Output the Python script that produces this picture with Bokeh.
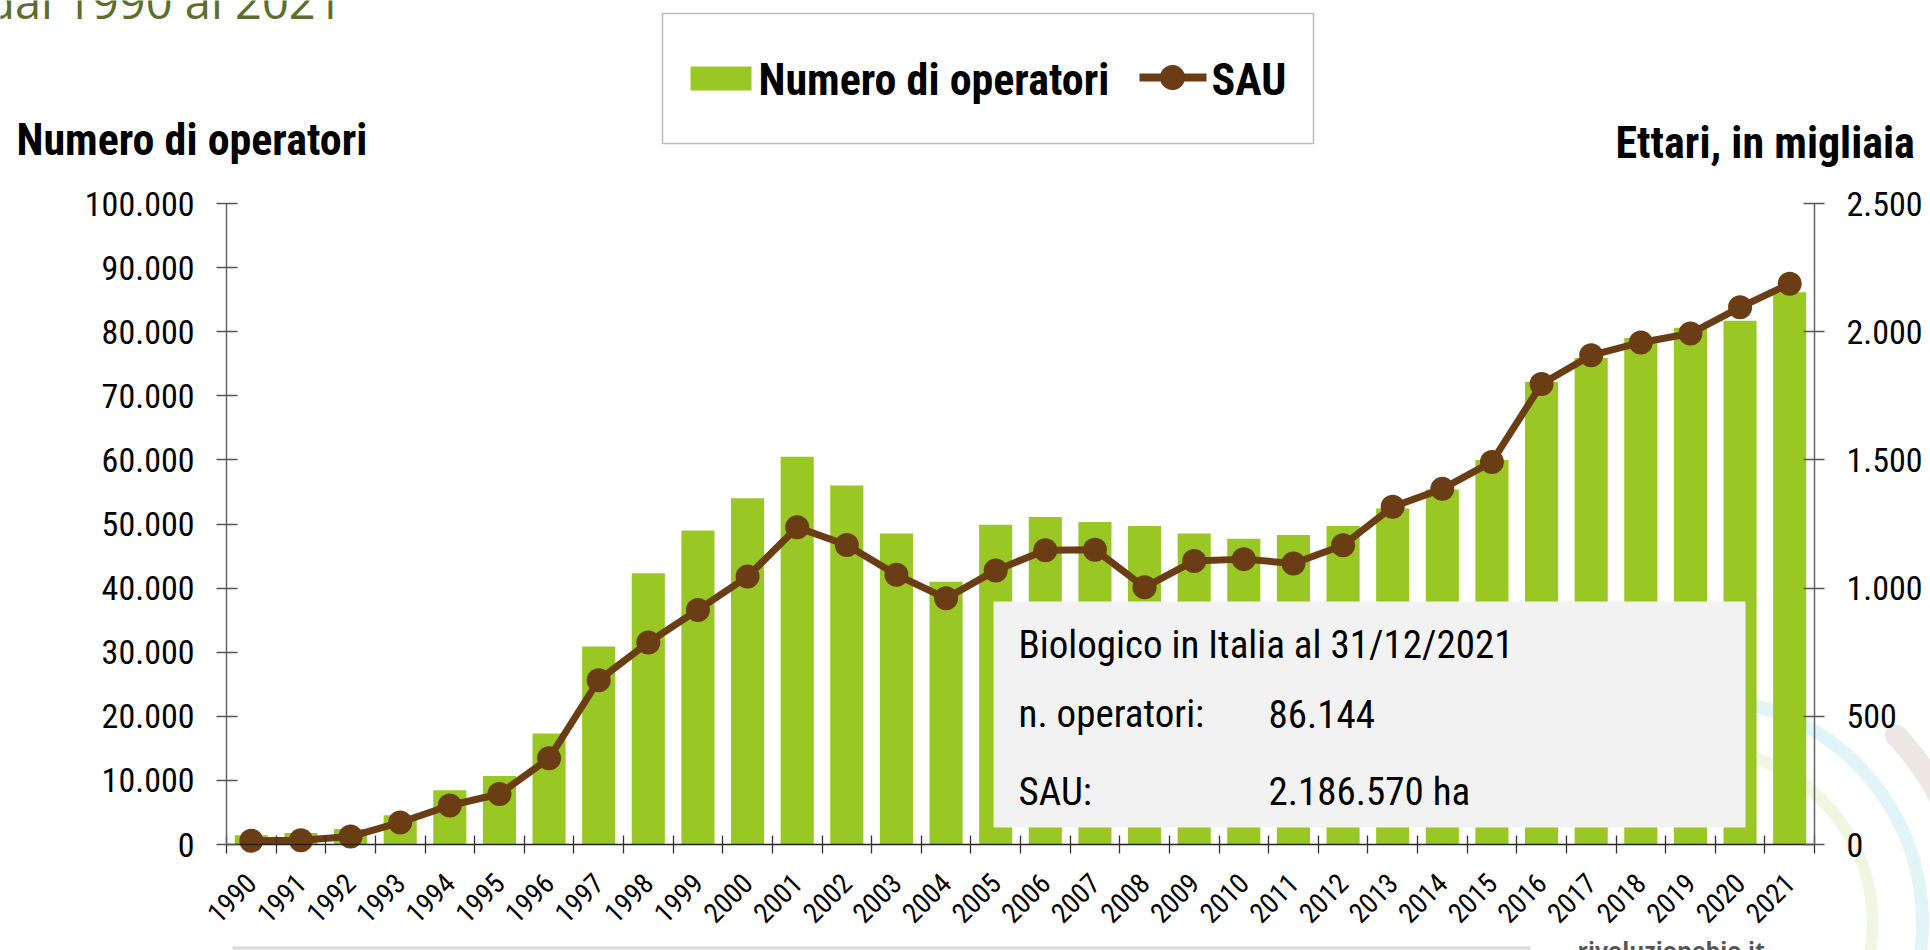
import numpy as np
from bokeh.plotting import figure
from bokeh.models import (Range1d, LinearAxis, FixedTicker, Label, BoxAnnotation,
                          PolyAnnotation, ColumnDataSource)
from bokeh.embed import file_html
from bokeh.resources import INLINE

# ---------------- data ----------------
years = [str(y) for y in range(1990, 2022)]
operatori = [1450, 1800, 2400, 4550, 8450, 10700, 17300, 30900, 42300, 49000,
             54000, 60500, 56000, 48500, 41000, 49900, 51100, 50300, 49700, 48500,
             47700, 48300, 49700, 52400, 55400, 60000, 72200, 75900, 79000, 80600,
             81700, 86144]
sau = [15, 17, 31, 86, 152, 197, 336, 641, 788, 915,
       1045, 1237, 1168, 1052, 960, 1069, 1148, 1150, 1003, 1106,
       1113, 1096, 1167, 1317, 1387, 1492, 1796, 1908, 1958, 1993,
       2095, 2187]
left_ticks = [0, 10000, 20000, 30000, 40000, 50000, 60000, 70000, 80000, 90000, 100000]
right_ticks = [0, 500, 1000, 1500, 2000, 2500]
legend_labels = ["Numero di operatori", "SAU"]
title_text = "dal 1990 al 2021"
left_title = "Numero di operatori"
right_title = "Ettari, in migliaia"
box_lines = [("Biologico in Italia al 31/12/2021", ""),
             ("n. operatori:", "86.144"),
             ("SAU:", "2.186.570 ha")]
site_text = "rivoluzionebio.it"

def it_fmt(v):
    return f"{v:,}".replace(",", ".")

# ---------------- style / geometry ----------------
GREEN = "#99c723"
BROWN = "#6b3d14"
NARROW = "'Liberation Sans Narrow', 'Arial Narrow', 'Roboto Condensed', 'DejaVu Sans Condensed', sans-serif"

W, H = 1930, 950
FL, FR, FT, FB = 226, 1814, 203, 844   # plot area in page pixels
n = len(years)
PX = (FR - FL) / n
YPX = (FB - FT) / 100000
SPX = (FB - FT) / 2500

x_rng = Range1d(-0.5 - FL / PX, n - 0.5 + (W - FR) / PX)
y_rng = Range1d(-(H - FB) / YPX, 100000 + FT / YPX)
s_rng = Range1d(-(H - FB) / SPX, 2500 + FT / SPX)

p = figure(width=W, height=H, output_backend="svg", toolbar_location=None,
           x_range=x_rng, y_range=y_rng,
           min_border=0, min_border_left=0, min_border_right=0,
           min_border_top=0, min_border_bottom=0)
p.outline_line_color = None
p.grid.visible = False
p.xaxis.visible = False
p.yaxis.visible = False
p.background_fill_color = "white"
p.border_fill_color = "white"
p.extra_y_ranges = {"sau": s_rng}

xs = list(range(n))
src = ColumnDataSource(dict(x=xs, op=operatori, sau=sau))

def sx(X):
    return X
def sy(Y):
    return H - Y

# decorative logo arcs (background)
cx, cy = sx(1698), sy(922)
def arc_poly(r, t, a0, a1, k=90):
    a = np.radians(np.linspace(a0, a1, k))
    xo = cx + (r + t / 2) * np.cos(a)
    yo = cy + (r + t / 2) * np.sin(a)
    xi = cx + (r - t / 2) * np.cos(a[::-1])
    yi = cy + (r - t / 2) * np.sin(a[::-1])
    return list(np.r_[xo, xi]), list(np.r_[yo, yi])

th = np.linspace(0, 2 * np.pi, 48)
for r, t, a0, a1, col in [(224, 13, 115, -40, "#e1f4f8"),
                          (174, 12, 115, -40, "#f1f6e3"),
                          (272, 22, 43.5, -20, "#ede7e4")]:
    ax_, ay_ = arc_poly(r, t, a0, a1)
    p.add_layout(PolyAnnotation(xs=ax_, ys=ay_, xs_units="screen", ys_units="screen",
                                fill_color=col, fill_alpha=1, line_color=None, level="underlay"))
ang = np.radians(43.5)
ccx, ccy = cx + 272 * np.cos(ang), cy + 272 * np.sin(ang)
p.add_layout(PolyAnnotation(xs=list(ccx + 11 * np.cos(th)), ys=list(ccy + 11 * np.sin(th)),
                            xs_units="screen", ys_units="screen",
                            fill_color="#ede7e4", fill_alpha=1, line_color=None, level="underlay"))

# bars
p.vbar(x="x", top="op", width=0.667, source=src, fill_color=GREEN, line_color=None)

# SAU line on secondary axis
p.line(x="x", y="sau", source=src, y_range_name="sau", line_color=BROWN, line_width=7)
p.scatter(x="x", y="sau", source=src, y_range_name="sau", size=24,
          fill_color=BROWN, line_color=None)

# axes (fixed inside the full-canvas frame)
xaxis = LinearAxis(ticker=FixedTicker(ticks=xs, minor_ticks=[i - 0.5 for i in range(n + 1)]),
                   fixed_location=0, bounds=(-0.5, n - 0.5))
xaxis.major_label_overrides = {i: y for i, y in enumerate(years)}
xaxis.major_label_orientation = np.pi / 4
xaxis.major_tick_in = 0
xaxis.major_tick_out = 9
xaxis.major_tick_line_color = None
xaxis.minor_tick_in = 9
xaxis.minor_tick_out = 9
xaxis.minor_tick_line_color = "#333333"
xaxis.minor_tick_line_width = 1.3
xaxis.axis_line_color = "#222222"
xaxis.axis_line_width = 1.5
xaxis.major_label_text_font = NARROW
xaxis.major_label_text_font_size = "28px"
xaxis.major_label_text_color = "black"
xaxis.major_label_standoff = 25
p.add_layout(xaxis, "below")

laxis = LinearAxis(ticker=FixedTicker(ticks=left_ticks, minor_ticks=[]),
                   fixed_location=-0.5, bounds=(0, 100000))
laxis.major_label_overrides = {v: it_fmt(v) for v in left_ticks}
raxis = LinearAxis(y_range_name="sau", ticker=FixedTicker(ticks=right_ticks, minor_ticks=[]),
                   fixed_location=n - 0.5, bounds=(0, 2500))
raxis.major_label_overrides = {v: it_fmt(v) for v in right_ticks}
for ax in (laxis, raxis):
    ax.major_tick_in = 11
    ax.major_tick_out = 10
    ax.major_tick_line_color = "#555555"
    ax.major_tick_line_width = 1.3
    ax.minor_tick_line_color = None
    ax.axis_line_color = "#666666"
    ax.axis_line_width = 1.5
    ax.major_label_text_font = NARROW
    ax.major_label_text_font_size = "34px"
    ax.major_label_text_color = "black"
    ax.major_label_standoff = 22
p.add_layout(laxis, "left")
p.add_layout(raxis, "right")

def lab(X, Y, text, size, font=NARROW, style="normal", color="black", align="left", level="annotation"):
    # Y is the wanted baseline in page pixels; compensate the renderer's baseline offset
    p.add_layout(Label(x=sx(X), y=sy(Y - 0.29 * size), x_units="screen", y_units="screen", text=text,
                       text_font=font, text_font_size=f"{size}px",
                       text_font_style=style, text_color=color, text_align=align,
                       text_baseline="alphabetic", level=level))

def sbox(l, r, t, b, **kw):
    return BoxAnnotation(left=sx(l), right=sx(r), top=sy(t), bottom=sy(b),
                         left_units="screen", right_units="screen",
                         top_units="screen", bottom_units="screen", **kw)

# title (its top is cut by the page edge, as in the reference)
lab(342, 14, title_text, 47, font="Open Sans", color="#5b6e2d", align="right")

# axis titles
lab(16, 152, left_title, 44, style="bold")
lab(1615, 155, right_title, 44, style="bold")

# legend
p.add_layout(sbox(662, 1313, 13, 143, fill_color="white", fill_alpha=1,
                  line_color="#222222", line_width=1.5, level="overlay"))
p.add_layout(sbox(690, 751, 66, 90, fill_color=GREEN, fill_alpha=1, line_color=None, level="overlay"))
p.add_layout(sbox(1139, 1206, 73, 81, fill_color=BROWN, fill_alpha=1, line_color=None, level="overlay"))
p.add_layout(PolyAnnotation(xs=list(sx(1172) + 12.5 * np.cos(th)), ys=list(sy(77) + 12.5 * np.sin(th)),
                            xs_units="screen", ys_units="screen",
                            fill_color=BROWN, fill_alpha=1, line_color=None, level="overlay"))
for X, t in zip([758, 1211], legend_labels):
    lab(X, 92, t, 44, style="bold", level="overlay")

# info box
p.add_layout(sbox(993, 1745, 601, 827, fill_color="#f2f2f2", fill_alpha=1, line_color=None))
for (a, b), Y in zip(box_lines, [656, 725, 803]):
    lab(1018, Y, a, 39)
    if b:
        lab(1268, Y, b, 39)

# footer: thin grey rule and site name (cut by the bottom edge, as in the reference)
p.add_layout(sbox(232, 1530, 946, 949, fill_color="#d9d9d9", fill_alpha=1, line_color=None))
lab(1577, 956, site_text, 23, font="Open Sans", style="bold", color="#555555")

open("out.html", "w").write(file_html(p, INLINE))
